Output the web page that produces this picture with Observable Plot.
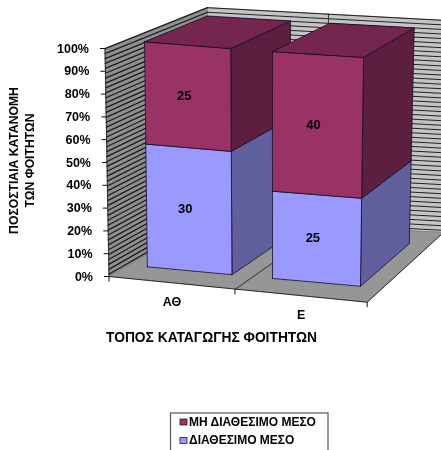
<!DOCTYPE html>
<html>
<head>
<meta charset="utf-8">
<script src="https://cdn.jsdelivr.net/npm/d3@7"></script>
<script src="https://cdn.jsdelivr.net/npm/@observablehq/plot@0.6"></script>
<style>
html,body{margin:0;padding:0;background:#fff;overflow:hidden}
svg{display:block;filter:blur(0.45px)}
</style>
</head>
<body>
<div id="chart"></div>
<script>
// --- data ---
const categories = ["ΑΘ", "Ε"];
const available = [30, 25];
const unavailable = [25, 40];
const seriesNames = ["ΜΗ ΔΙΑΘΕΣΙΜΟ ΜΕΣΟ", "ΔΙΑΘΕΣΙΜΟ ΜΕΣΟ"];
const tickLabels = ["0%", "10%", "20%", "30%", "40%", "50%", "60%", "70%", "80%", "90%", "100%"];
const xTitle = "ΤΟΠΟΣ ΚΑΤΑΓΩΓΗΣ ΦΟΙΤΗΤΩΝ";
const yTitle = ["ΠΟΣΟΣΤΙΑΙΑ ΚΑΤΑΝΟΜΗ", "ΤΩΝ ΦΟΙΤΗΤΩΝ"];

// --- the view of the 3D box: where its edges fall in the scene ---
const floorFront = [[108.5, 276], [234.5, 289], [366.7, 301.7]];
const floorBack = [[207, 219], [325, 225], [443, 232]];
const topFront = [[104.5, 48], [232.75, 58.9], [370, 68]];
const topBack = [[207, 7], [328, 13.5], [449, 20]];
const mix = (a, b, t) => [a[0] + (b[0] - a[0]) * t, a[1] + (b[1] - a[1]) * t];
function project(u, v, w) { // u: category position, v: share 0..1, w: depth 0..1
  const i = Math.min(Math.floor(u), categories.length - 1), t = u - i;
  const at = (edge) => mix(edge[i], edge[i + 1], t);
  return mix(mix(at(floorFront), at(floorBack), w), mix(at(topFront), at(topBack), w), v);
}
const pt = (id, fill, u, v, w) => { const [x, y] = project(u, v, w); return {id, fill, x, y}; };
const poly = (id, fill, corners) => [...corners, corners[0]].map(([u, v, w]) => pt(id, fill, u, v, w));

// --- walls and floor ---
const n = categories.length;
const walls = [
  ...poly("left", "#8f8f8f", [[0, 0, 0], [0, 1, 0], [0, 1, 1], [0, 0, 1]]),
  ...poly("back", "#c4c4c4", [[0, 0, 1], [0, 1, 1], [n, 1, 1], [n, 0, 1]]),
  ...poly("floor", "#969696", [[0, 0, 0], [n, 0, 0], [n, 0, 1], [0, 0, 1]])
];
const stripeLevels = d3.range(0.01, 1.0, 0.0215);
const leftStripes = stripeLevels.flatMap((v, k) => [pt("l" + k, null, 0, v, 0), pt("l" + k, null, 0, v, 1)]);
const backStripes = stripeLevels.flatMap((v, k) => [pt("b" + k, null, 0, v, 1), pt("b" + k, null, n, v, 1)]);
const dividers = [
  pt("d1", null, 1, 0, 0), pt("d1", null, 1, 0, 1), pt("d1", null, 1, 1, 1),
  pt("d2", null, 0, 0, 0), pt("d2", null, 0, 1, 0),
  pt("d3", null, 0, 0, 0), pt("d3", null, n, 0, 0), pt("d3", null, n, 0, 1)
];

// --- bars ---
const t0 = 0.15, t1 = 0.83, w0 = 0.2, w1 = 0.82;
const faces = categories.flatMap((c, i) => {
  const total = available[i] + unavailable[i];
  const split = available[i] / total;
  const a = i + t0, b = i + t1;
  return [
    ...poly(c + "s1", "#60609f", [[b, 0, w0], [b, 0, w1], [b, split, w1], [b, split, w0]]),
    ...poly(c + "s2", "#5c1f40", [[b, split, w0], [b, split, w1], [b, 1, w1], [b, 1, w0]]),
    ...poly(c + "f1", "#9999ff", [[a, 0, w0], [b, 0, w0], [b, split, w0], [a, split, w0]]),
    ...poly(c + "f2", "#993366", [[a, split, w0], [b, split, w0], [b, 1, w0], [a, 1, w0]]),
    ...poly(c + "t", "#74264f", [[a, 1, w0], [b, 1, w0], [b, 1, w1], [a, 1, w1]])
  ];
});
const valueLabels = categories.flatMap((c, i) => {
  const total = available[i] + unavailable[i];
  const split = available[i] / total;
  const [x1, y1] = project(i + (t0 + t1) / 2 - 0.03, split / 2, w0);
  const [x2, y2] = project(i + (t0 + t1) / 2 - 0.03, (split + 1) / 2, w0);
  return [{x: x1, y: y1, text: String(available[i])}, {x: x2, y: y2, text: String(unavailable[i])}];
});

// --- axes ---
const yTicks = tickLabels.map((text, k) => {
  const [x, y] = project(0, k / (tickLabels.length - 1), 0);
  return {x, y, text};
});
const xTicks = d3.range(0, n + 1).map(u => { const [x, y] = project(u, 0, 0); return {x, y}; });
const xLabels = categories.map((text, i) => {
  const [x, y] = project(i + 0.5, 0, 0);
  return {x, y, text};
});

// --- legend ---
const legendColors = ["#993366", "#9999ff"];
const legend = seriesNames.map((name, i) => ({name, fill: legendColors[i], y: 421.5 + i * 18.5}));

const font = "Liberation Sans, Arial, sans-serif";
const chart = Plot.plot({
  width: 441, height: 450,
  margin: 0,
  x: {domain: [0, 441], range: [0, 441], axis: null},
  y: {domain: [0, 450], range: [0, 450], axis: null},
  style: {fontFamily: font, background: "#fff", overflow: "hidden"},
  marks: [
    Plot.line(walls, {x: "x", y: "y", z: "id", fill: "fill", stroke: "#777", strokeWidth: 0.6}),
    Plot.line(leftStripes, {x: "x", y: "y", z: "id", stroke: "#1c1c1c", strokeWidth: 1.3}),
    Plot.line(backStripes, {x: "x", y: "y", z: "id", stroke: "#222", strokeWidth: 1}),
    Plot.line(dividers, {x: "x", y: "y", z: "id", stroke: "#222", strokeWidth: 0.9}),
    Plot.link(yTicks, {x1: d => d.x - 5, x2: "x", y1: "y", y2: "y", stroke: "#111", strokeWidth: 1}),
    Plot.link(xTicks, {x1: "x", x2: "x", y1: "y", y2: d => d.y + 5, stroke: "#111", strokeWidth: 1}),
    Plot.line(faces, {x: "x", y: "y", z: "id", fill: "fill", stroke: "#150c26", strokeWidth: 0.8}),
    Plot.text(valueLabels, {x: "x", y: "y", text: "text", fontWeight: "bold", fontSize: 13, fill: "#000"}),
    Plot.text(yTicks, {x: d => d.x - 16, y: "y", text: "text", textAnchor: "end", fontWeight: "bold", fontSize: 12.5, fill: "#000"}),
    Plot.text(xLabels, {x: d => d.x, y: d => d.y + 19, text: "text", fontWeight: "bold", fontSize: 12.5, fill: "#000"}),
    Plot.text([xTitle], {x: 211, y: 337, text: d => d, fontWeight: "bold", fontSize: 13.8, fill: "#000"}),
    Plot.text(yTitle, {x: (d, i) => 14 + i * 16, y: 160, text: d => d, rotate: -90, fontWeight: "bold", fontSize: 12.2, fill: "#000"}),
    Plot.rect([0], {x1: 170.5, x2: 328, y1: 413, y2: 460, fill: "#fff", stroke: "#555", strokeWidth: 1.2}),
    Plot.rect(legend, {x1: 180, x2: 187, y1: d => d.y - 2.5, y2: d => d.y + 3.5, fill: "fill", stroke: "#222", strokeWidth: 0.8}),
    Plot.text(legend, {x: 188.5, y: "y", text: "name", textAnchor: "start", fontWeight: "bold", fontSize: 12, fill: "#000"})
  ]
});
document.getElementById("chart").append(chart);
</script>
</body>
</html>
